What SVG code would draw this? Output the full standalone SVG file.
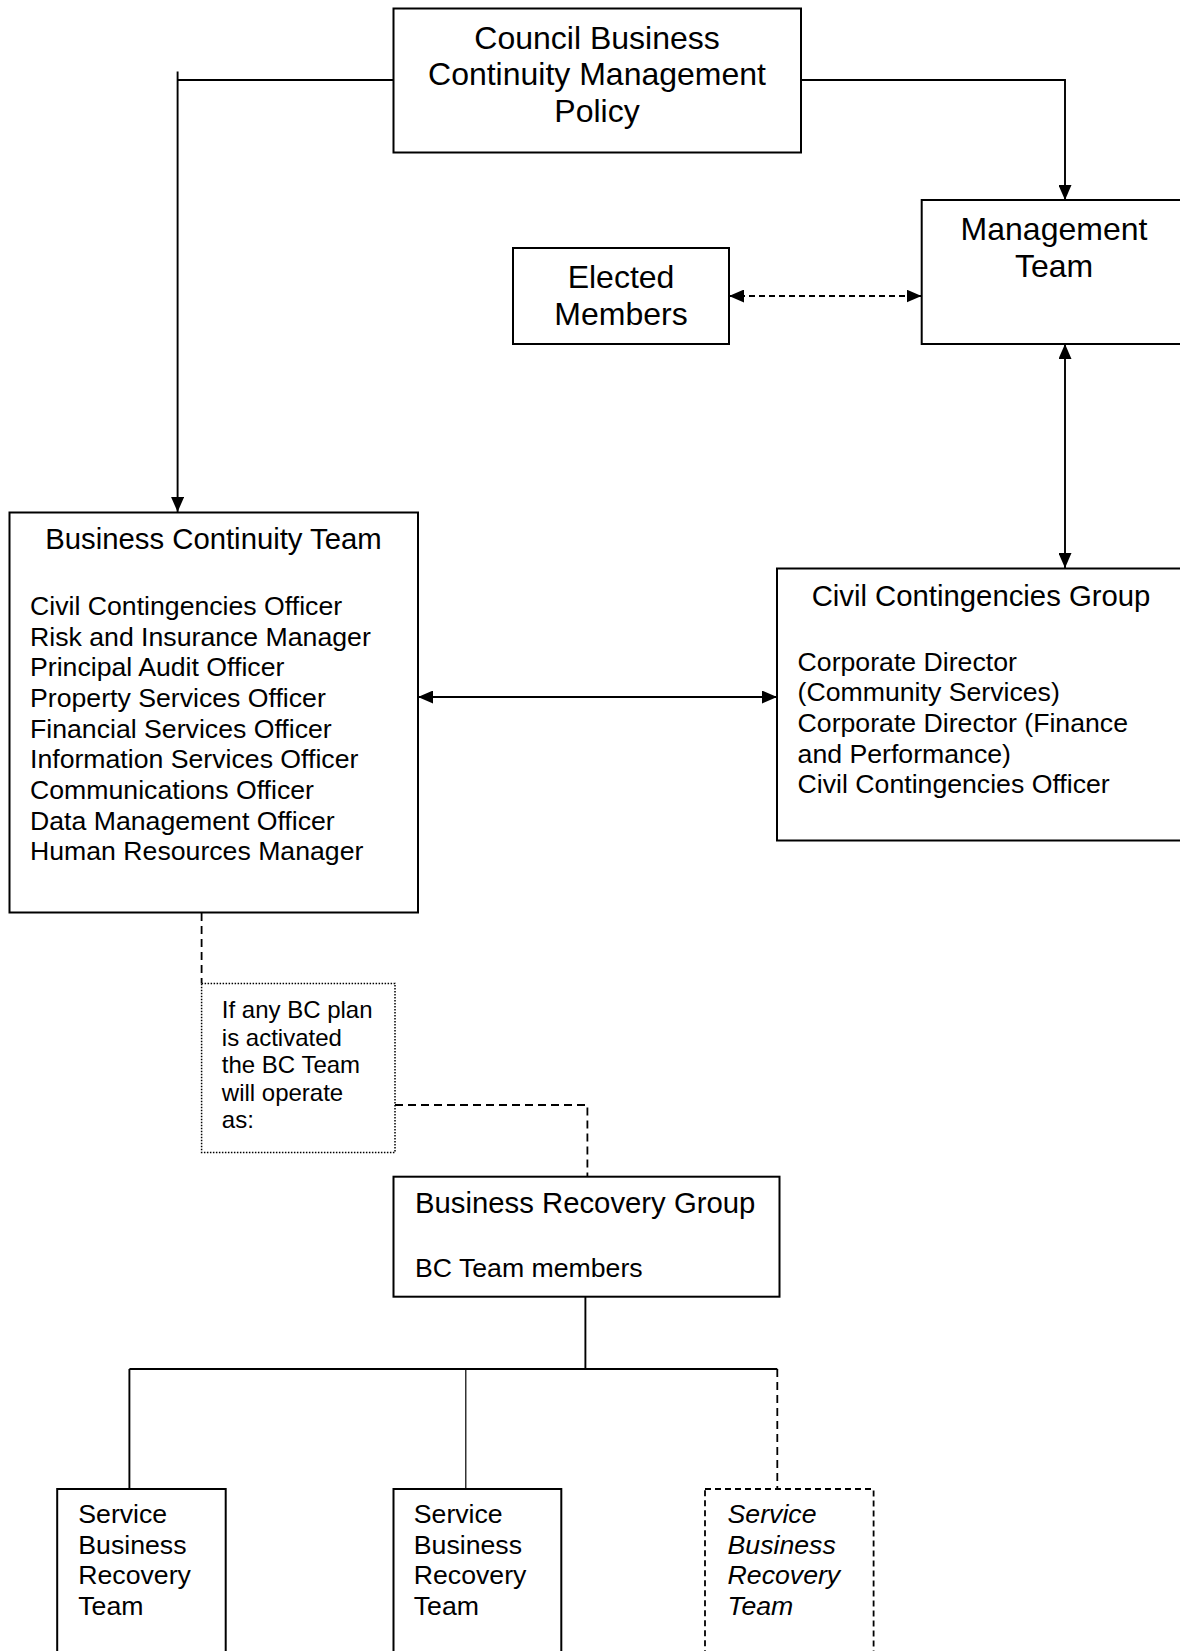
<svg xmlns="http://www.w3.org/2000/svg" width="1180" height="1651" viewBox="0 0 1180 1651">
<style>
  text { font-family: "Liberation Sans", Arial, sans-serif; fill: #000; }
  .box { fill: #fff; stroke: #000; stroke-width: 2; }
  .dbox { fill: #fff; stroke: #000; stroke-width: 1.8; stroke-dasharray: 6 4; }
  .note { fill: #fff; stroke: #000; stroke-width: 1.5; stroke-dasharray: 1.5 1.5; }
  .ln { fill: none; stroke: #000; stroke-width: 1.9; }
  .dl { fill: none; stroke: #000; stroke-width: 1.8; stroke-dasharray: 8 5; }
  .da { fill: none; stroke: #000; stroke-width: 2; stroke-dasharray: 6 4; }
  .t32 { font-size: 32px; }
  .t29 { font-size: 29.3px; }
  .t27 { font-size: 26.67px; }
  .t24 { font-size: 24px; }
  .mid { text-anchor: middle; }
  .it { font-style: italic; }
</style>
<defs>
  <marker id="ah" viewBox="0 0 15 13" refX="15" refY="6.5" markerWidth="15" markerHeight="13" markerUnits="userSpaceOnUse" orient="auto-start-reverse">
    <path d="M0,0 L15,6.5 L0,13 Z" fill="#000"/>
  </marker>
</defs>
<rect width="1180" height="1651" fill="#fff"/>

<g id="connectors">
  <path class="ln" d="M393,80 H177.6 M177.6,71.5 V512" marker-end="url(#ah)"/>
  <path class="ln" d="M801,80 H1065 V200" marker-end="url(#ah)"/>
  <path class="da" d="M729,296 H921.5" marker-start="url(#ah)" marker-end="url(#ah)"/>
  <path class="ln" d="M1065,344 V568" marker-start="url(#ah)" marker-end="url(#ah)"/>
  <path class="ln" d="M418,697 H777" marker-start="url(#ah)" marker-end="url(#ah)"/>
  <path class="dl" d="M201.6,913 V983.5"/>
  <path class="dl" d="M395,1105 H587.4 V1176.7"/>
  <path class="ln" d="M585.4,1296.7 V1369 M129.4,1369 H777.3 M129.4,1369 V1489"/>
  <path class="ln" style="stroke-width:1.2" d="M465.8,1369 V1489"/>
  <path class="dl" d="M777.3,1369 V1489"/>
</g>

<g id="policy">
  <rect class="box" x="393.5" y="8.5" width="407.5" height="144"/>
  <text class="t32 mid" x="597" y="48.5">Council Business</text>
  <text class="t32 mid" x="597" y="85.3">Continuity Management</text>
  <text class="t32 mid" x="597" y="122">Policy</text>
</g>

<g id="management-team">
  <rect class="box" x="921.7" y="200" width="270" height="144"/>
  <text class="t32 mid" x="1054" y="240">Management</text>
  <text class="t32 mid" x="1054" y="276.8">Team</text>
</g>

<g id="elected-members">
  <rect class="box" x="513" y="248" width="216" height="96"/>
  <text class="t32 mid" x="621" y="288.3">Elected</text>
  <text class="t32 mid" x="621" y="325">Members</text>
</g>

<g id="business-continuity-team">
  <rect class="box" x="9.5" y="512.5" width="408.5" height="400"/>
  <text class="t29 mid" x="213.5" y="548.5">Business Continuity Team</text>
  <text class="t27" x="30">
    <tspan x="30" y="615">Civil Contingencies Officer</tspan>
    <tspan x="30" y="645.7">Risk and Insurance Manager</tspan>
    <tspan x="30" y="676.3">Principal Audit Officer</tspan>
    <tspan x="30" y="707">Property Services Officer</tspan>
    <tspan x="30" y="737.7">Financial Services Officer</tspan>
    <tspan x="30" y="768.3">Information Services Officer</tspan>
    <tspan x="30" y="799">Communications Officer</tspan>
    <tspan x="30" y="829.7">Data Management Officer</tspan>
    <tspan x="30" y="860.3">Human Resources Manager</tspan>
  </text>
</g>

<g id="civil-contingencies-group">
  <rect class="box" x="777" y="568.5" width="410" height="272"/>
  <text class="t29 mid" x="981" y="605.5">Civil Contingencies Group</text>
  <text class="t27" x="797.6">
    <tspan x="797.6" y="670.5">Corporate Director</tspan>
    <tspan x="797.6" y="701.2">(Community Services)</tspan>
    <tspan x="797.6" y="731.8">Corporate Director (Finance</tspan>
    <tspan x="797.6" y="762.5">and Performance)</tspan>
    <tspan x="797.6" y="793.2">Civil Contingencies Officer</tspan>
  </text>
</g>

<g id="activation-note">
  <rect class="note" x="201.6" y="983.5" width="193.4" height="169"/>
  <text class="t24" x="221.8">
    <tspan x="221.8" y="1018">If any BC plan</tspan>
    <tspan x="221.8" y="1045.5">is activated</tspan>
    <tspan x="221.8" y="1073">the BC Team</tspan>
    <tspan x="221.8" y="1100.5">will operate</tspan>
    <tspan x="221.8" y="1128">as:</tspan>
  </text>
</g>

<g id="business-recovery-group">
  <rect class="box" x="393.5" y="1176.7" width="386" height="120"/>
  <text class="t29" x="415" y="1213">Business Recovery Group</text>
  <text class="t27" x="415" y="1276.5">BC Team members</text>
</g>

<g id="sbrt-1">
  <rect class="box" x="57.2" y="1489" width="168.5" height="180"/>
  <text class="t27" x="78.3">
    <tspan x="78.3" y="1523">Service</tspan>
    <tspan x="78.3" y="1553.7">Business</tspan>
    <tspan x="78.3" y="1584.3">Recovery</tspan>
    <tspan x="78.3" y="1615">Team</tspan>
  </text>
</g>

<g id="sbrt-2">
  <rect class="box" x="393.5" y="1489" width="167.8" height="180"/>
  <text class="t27" x="413.8">
    <tspan x="413.8" y="1523">Service</tspan>
    <tspan x="413.8" y="1553.7">Business</tspan>
    <tspan x="413.8" y="1584.3">Recovery</tspan>
    <tspan x="413.8" y="1615">Team</tspan>
  </text>
</g>

<g id="sbrt-3">
  <rect class="dbox" x="705" y="1489" width="168.6" height="180"/>
  <text class="t27 it" x="727.6">
    <tspan x="727.6" y="1523">Service</tspan>
    <tspan x="727.6" y="1553.7">Business</tspan>
    <tspan x="727.6" y="1584.3">Recovery</tspan>
    <tspan x="727.6" y="1615">Team</tspan>
  </text>
</g>
</svg>
